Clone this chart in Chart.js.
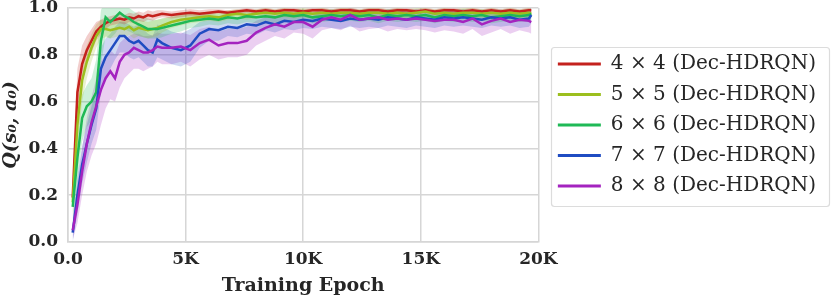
<!DOCTYPE html>
<html>
<head>
<meta charset="utf-8">
<script src="https://cdn.jsdelivr.net/npm/chart.js@4.4.1/dist/chart.umd.min.js"></script>
<style>
  html, body { margin: 0; padding: 0; background: #fff; }
  #wrap { width: 831px; height: 297px; }
</style>
</head>
<body>
<div id="wrap"><canvas id="chart" width="831" height="297"></canvas></div>
<script>
// x values (training epoch) of the logged points
const epochs = [200, 400, 600, 800, 1000, 1200, 1400, 1600, 1800, 2000,
  2200, 2400, 2600, 2800, 3000, 3200, 3400, 3600, 3800, 4000,
  4400, 4800, 5200, 5600, 6000, 6400, 6800, 7200, 7600, 8000,
  8400, 8800, 9200, 9600, 10000, 10400, 10800, 11200, 11600, 12000,
  12400, 12800, 13200, 13600, 14000, 14400, 14800, 15200, 15600, 16000,
  16400, 16800, 17200, 17600, 18000, 18400, 18800, 19200, 19600, 19700];

const xTickLabels = ['0.0', '5K', '10K', '15K', '20K'];
const yTickLabels = ['0.0', '0.2', '0.4', '0.6', '0.8', '1.0'];
const seriesNames = ['4 × 4 (Dec-HDRQN)', '5 × 5 (Dec-HDRQN)', '6 × 6 (Dec-HDRQN)', '7 × 7 (Dec-HDRQN)', '8 × 8 (Dec-HDRQN)'];

// 4x4
const q4 = [0.19, 0.64, 0.76, 0.82, 0.86, 0.90, 0.92, 0.935, 0.945, 0.95,
  0.955, 0.95, 0.96, 0.955, 0.965, 0.96, 0.97, 0.965, 0.97, 0.975,
  0.97, 0.975, 0.98, 0.975, 0.98, 0.985, 0.98, 0.985, 0.99, 0.985,
  0.99, 0.985, 0.99, 0.99, 0.985, 0.99, 0.99, 0.985, 0.99, 0.99,
  0.985, 0.99, 0.99, 0.985, 0.99, 0.99, 0.985, 0.99, 0.985, 0.99,
  0.99, 0.985, 0.99, 0.985, 0.99, 0.985, 0.99, 0.985, 0.99, 0.99];
const q4Low = [0.12, 0.54, 0.68, 0.76, 0.81, 0.86, 0.89, 0.91, 0.925, 0.93,
  0.935, 0.93, 0.94, 0.935, 0.945, 0.94, 0.95, 0.945, 0.955, 0.96,
  0.955, 0.96, 0.965, 0.96, 0.97, 0.975, 0.97, 0.975, 0.98, 0.975,
  0.98, 0.975, 0.98, 0.98, 0.975, 0.98, 0.98, 0.975, 0.98, 0.98,
  0.975, 0.98, 0.98, 0.975, 0.98, 0.98, 0.975, 0.98, 0.975, 0.98,
  0.98, 0.975, 0.98, 0.975, 0.98, 0.975, 0.98, 0.975, 0.98, 0.98];
const q4High = [0.26, 0.74, 0.84, 0.88, 0.91, 0.94, 0.95, 0.96, 0.965, 0.97,
  0.975, 0.97, 0.98, 0.975, 0.985, 0.98, 0.99, 0.985, 0.99, 0.99,
  0.985, 0.99, 0.995, 0.99, 0.995, 0.995, 0.99, 0.995, 1.0, 0.995,
  1.0, 0.995, 1.0, 1.0, 0.995, 1.0, 1.0, 0.995, 1.0, 1.0,
  0.995, 1.0, 1.0, 0.995, 1.0, 1.0, 0.995, 1.0, 0.995, 1.0,
  1.0, 0.995, 1.0, 0.995, 1.0, 0.995, 1.0, 0.995, 1.0, 1.0];

// 5x5
const q5 = [0.17, 0.50, 0.69, 0.77, 0.83, 0.88, 0.91, 0.91, 0.905, 0.91,
  0.915, 0.91, 0.92, 0.905, 0.915, 0.91, 0.905, 0.91, 0.915, 0.925,
  0.94, 0.95, 0.955, 0.96, 0.965, 0.96, 0.97, 0.975, 0.97, 0.975,
  0.98, 0.975, 0.98, 0.975, 0.98, 0.975, 0.98, 0.975, 0.98, 0.98,
  0.975, 0.98, 0.98, 0.975, 0.98, 0.975, 0.98, 0.985, 0.975, 0.98,
  0.975, 0.98, 0.98, 0.975, 0.98, 0.975, 0.98, 0.975, 0.98, 0.975];
const q5Low = [0.11, 0.40, 0.60, 0.70, 0.77, 0.83, 0.87, 0.875, 0.87, 0.875,
  0.88, 0.875, 0.885, 0.87, 0.88, 0.875, 0.87, 0.875, 0.88, 0.895,
  0.915, 0.925, 0.935, 0.94, 0.945, 0.94, 0.95, 0.955, 0.95, 0.955,
  0.96, 0.955, 0.96, 0.955, 0.96, 0.955, 0.96, 0.955, 0.96, 0.96,
  0.955, 0.96, 0.96, 0.955, 0.96, 0.955, 0.96, 0.965, 0.955, 0.96,
  0.955, 0.96, 0.96, 0.955, 0.96, 0.955, 0.96, 0.955, 0.96, 0.955];
const q5High = [0.23, 0.60, 0.78, 0.84, 0.89, 0.93, 0.95, 0.945, 0.94, 0.945,
  0.95, 0.945, 0.955, 0.94, 0.95, 0.945, 0.94, 0.945, 0.95, 0.955,
  0.965, 0.975, 0.975, 0.98, 0.985, 0.98, 0.99, 0.995, 0.99, 0.995,
  1.0, 0.995, 1.0, 0.995, 1.0, 0.995, 1.0, 0.995, 1.0, 1.0,
  0.995, 1.0, 1.0, 0.995, 1.0, 0.995, 1.0, 1.0, 0.995, 1.0,
  0.995, 1.0, 1.0, 0.995, 1.0, 0.995, 1.0, 0.995, 1.0, 0.995];

// 6x6
const q6 = [0.15, 0.36, 0.53, 0.58, 0.60, 0.64, 0.86, 0.96, 0.94, 0.96,
  0.98, 0.965, 0.955, 0.94, 0.93, 0.92, 0.91, 0.91, 0.91, 0.915,
  0.925, 0.935, 0.945, 0.95, 0.955, 0.95, 0.96, 0.955, 0.965, 0.96,
  0.965, 0.96, 0.97, 0.965, 0.97, 0.96, 0.965, 0.97, 0.965, 0.97,
  0.965, 0.97, 0.96, 0.97, 0.965, 0.97, 0.965, 0.97, 0.96, 0.97,
  0.965, 0.97, 0.965, 0.97, 0.96, 0.965, 0.97, 0.965, 0.97, 0.975];
const q6Low = [0.09, 0.26, 0.43, 0.49, 0.52, 0.56, 0.76, 0.88, 0.87, 0.89,
  0.92, 0.91, 0.90, 0.89, 0.88, 0.875, 0.87, 0.87, 0.87, 0.875,
  0.89, 0.90, 0.915, 0.92, 0.93, 0.925, 0.935, 0.93, 0.94, 0.935,
  0.94, 0.935, 0.945, 0.94, 0.945, 0.935, 0.94, 0.945, 0.94, 0.945,
  0.94, 0.945, 0.935, 0.945, 0.94, 0.945, 0.94, 0.945, 0.935, 0.945,
  0.94, 0.945, 0.94, 0.945, 0.935, 0.94, 0.945, 0.94, 0.945, 0.95];
const q6High = [0.21, 0.46, 0.63, 0.67, 0.70, 0.78, 0.99, 1.04, 1.02, 1.03,
  1.04, 1.02, 1.0, 0.985, 0.975, 0.965, 0.955, 0.95, 0.95, 0.955,
  0.96, 0.97, 0.975, 0.98, 0.98, 0.975, 0.985, 0.98, 0.99, 0.985,
  0.99, 0.985, 0.995, 0.99, 0.995, 0.985, 0.99, 0.995, 0.99, 0.995,
  0.99, 0.995, 0.985, 0.995, 0.99, 0.995, 0.99, 0.995, 0.985, 0.995,
  0.99, 0.995, 0.99, 0.995, 0.985, 0.99, 0.995, 0.99, 0.995, 1.0];

// 7x7
const q7 = [0.04, 0.20, 0.33, 0.42, 0.50, 0.57, 0.74, 0.79, 0.82, 0.85,
  0.88, 0.88, 0.86, 0.85, 0.86, 0.84, 0.82, 0.81, 0.865, 0.85,
  0.83, 0.82, 0.84, 0.89, 0.91, 0.905, 0.92, 0.915, 0.93, 0.925,
  0.94, 0.93, 0.945, 0.94, 0.95, 0.945, 0.955, 0.95, 0.945, 0.955,
  0.95, 0.955, 0.95, 0.96, 0.955, 0.95, 0.96, 0.955, 0.95, 0.96,
  0.955, 0.96, 0.955, 0.95, 0.96, 0.955, 0.96, 0.95, 0.955, 0.97];
const q7Low = [0.00, 0.12, 0.25, 0.34, 0.42, 0.48, 0.64, 0.70, 0.74, 0.78,
  0.81, 0.81, 0.79, 0.78, 0.79, 0.77, 0.75, 0.75, 0.79, 0.78,
  0.76, 0.75, 0.77, 0.83, 0.86, 0.86, 0.88, 0.875, 0.89, 0.885,
  0.905, 0.895, 0.91, 0.905, 0.915, 0.91, 0.92, 0.915, 0.91, 0.92,
  0.915, 0.92, 0.915, 0.925, 0.92, 0.915, 0.925, 0.92, 0.915, 0.925,
  0.92, 0.925, 0.92, 0.915, 0.925, 0.92, 0.925, 0.915, 0.92, 0.935];
const q7High = [0.09, 0.28, 0.41, 0.50, 0.58, 0.66, 0.83, 0.87, 0.89, 0.92,
  0.94, 0.94, 0.93, 0.92, 0.93, 0.91, 0.89, 0.88, 0.93, 0.92,
  0.90, 0.89, 0.91, 0.94, 0.95, 0.95, 0.96, 0.955, 0.97, 0.965,
  0.975, 0.965, 0.98, 0.975, 0.985, 0.98, 0.99, 0.985, 0.98, 0.99,
  0.985, 0.99, 0.985, 0.995, 0.99, 0.985, 0.995, 0.99, 0.985, 0.995,
  0.99, 0.995, 0.99, 0.985, 0.995, 0.99, 0.995, 0.985, 0.99, 1.0];

// 8x8
const q8 = [0.05, 0.16, 0.30, 0.42, 0.51, 0.58, 0.65, 0.70, 0.73, 0.70,
  0.77, 0.80, 0.81, 0.83, 0.82, 0.81, 0.81, 0.82, 0.835, 0.83,
  0.83, 0.835, 0.82, 0.85, 0.865, 0.84, 0.85, 0.85, 0.86, 0.895,
  0.915, 0.93, 0.92, 0.94, 0.94, 0.92, 0.95, 0.96, 0.95, 0.97,
  0.95, 0.955, 0.96, 0.95, 0.955, 0.95, 0.955, 0.95, 0.945, 0.95,
  0.95, 0.94, 0.955, 0.93, 0.945, 0.955, 0.94, 0.95, 0.945, 0.94];
const q8Low = [0.01, 0.08, 0.20, 0.30, 0.37, 0.42, 0.50, 0.57, 0.61, 0.60,
  0.66, 0.70, 0.72, 0.74, 0.74, 0.73, 0.74, 0.75, 0.77, 0.76,
  0.76, 0.77, 0.75, 0.78, 0.80, 0.78, 0.79, 0.79, 0.80, 0.84,
  0.86, 0.88, 0.87, 0.895, 0.89, 0.87, 0.905, 0.915, 0.905, 0.925,
  0.90, 0.91, 0.915, 0.90, 0.91, 0.905, 0.91, 0.905, 0.895, 0.905,
  0.90, 0.89, 0.91, 0.88, 0.895, 0.91, 0.89, 0.905, 0.895, 0.89];
const q8High = [0.10, 0.26, 0.40, 0.53, 0.62, 0.70, 0.77, 0.80, 0.82, 0.80,
  0.85, 0.87, 0.88, 0.89, 0.89, 0.88, 0.88, 0.885, 0.895, 0.89,
  0.89, 0.895, 0.885, 0.91, 0.92, 0.90, 0.91, 0.91, 0.92, 0.945,
  0.96, 0.97, 0.965, 0.98, 0.98, 0.965, 0.985, 0.995, 0.985, 1.0,
  0.99, 0.995, 0.995, 0.99, 0.995, 0.99, 0.995, 0.99, 0.985, 0.99,
  0.99, 0.985, 0.995, 0.975, 0.99, 0.995, 0.98, 0.99, 0.985, 0.985];

const means = [q4, q5, q6, q7, q8];
const lows = [q4Low, q5Low, q6Low, q7Low, q8Low];
const highs = [q4High, q5High, q6High, q7High, q8High];
const lineColors = ['#c4211d', '#9cbf1e', '#1fb956', '#1f4cc2', '#a423bf'];
const bandColors = ['rgba(196,33,29,0.22)', 'rgba(156,191,30,0.22)', 'rgba(31,185,86,0.22)', 'rgba(31,76,194,0.22)', 'rgba(164,35,191,0.22)'];

const serif = "'DejaVu Serif', serif";
const textColor = '#262626';
const gridColor = '#d6d6d6';

// lines first (they are on top), bands after
const datasets = [];
seriesNames.forEach((name, i) => {
    datasets.push({
        label: name,
        data: means[i],
        borderColor: lineColors[i],
        backgroundColor: lineColors[i],
        borderWidth: 2.5,
        pointRadius: 0,
        fill: false,
        order: 5 - i
    });
});
seriesNames.forEach((name, i) => {
    datasets.push({
        label: name + ' upper',
        data: highs[i],
        borderColor: 'rgba(0,0,0,0)',
        borderWidth: 0,
        backgroundColor: bandColors[i],
        pointRadius: 0,
        fill: '+1',
        order: 20
    });
    datasets.push({
        label: name + ' lower',
        data: lows[i],
        borderColor: 'rgba(0,0,0,0)',
        borderWidth: 0,
        pointRadius: 0,
        fill: false,
        order: 20
    });
});

// push the legend a bit away from the plot and frame it
const legendFrame = {
    id: 'legendFrame',
    afterLayout(chart) {
        chart.legend.left += 9;
        chart.legend.right += 9;
    },
    afterDraw(chart) {
        const boxes = chart.legend && chart.legend.legendHitBoxes;
        if (!boxes || !boxes.length) return;
        const ctx = chart.ctx;
        const left = Math.min(...boxes.map(b => b.left)) - 7;
        const right = Math.max(...boxes.map(b => b.left + b.width)) + 16;
        const top = boxes[0].top - 7;
        const last = boxes[boxes.length - 1];
        const bottom = last.top + last.height + 10;
        ctx.save();
        ctx.strokeStyle = '#dcdcdc';
        ctx.lineWidth = 1.2;
        ctx.beginPath();
        ctx.roundRect(Math.round(left) + 0.5, Math.round(top) + 0.5, Math.min(Math.round(right - left), 829 - Math.round(left)), Math.round(bottom - top), 3);
        ctx.stroke();
        ctx.restore();
    }
};

new Chart(document.getElementById('chart').getContext('2d'), {
    type: 'line',
    data: { labels: epochs, datasets: datasets },
    options: {
        responsive: false,
        animation: false,
        devicePixelRatio: 1,
        layout: { padding: { top: 8, left: 0, right: 14, bottom: 0 } },
        elements: { line: { tension: 0 } },
        plugins: {
            tooltip: { enabled: false },
            legend: {
                position: 'right',
                fullSize: false,
                maxWidth: 320,
                labels: {
                    boxWidth: 43,
                    boxHeight: 3,
                    padding: 10.5,
                    color: textColor,
                    font: { family: serif, size: 20 },
                    generateLabels: () => seriesNames.map((name, i) => ({
                        text: name,
                        fillStyle: lineColors[i],
                        strokeStyle: lineColors[i],
                        lineWidth: 0,
                        hidden: false,
                        datasetIndex: i,
                        fontColor: textColor
                    }))
                }
            }
        },
        scales: {
            x: {
                type: 'linear',
                min: 0,
                max: 20000,
                afterFit: s => { s.height = 55; },
                ticks: {
                    stepSize: 5000,
                    padding: 7,
                    color: textColor,
                    font: { family: serif, size: 17, weight: 'bold' },
                    callback: v => xTickLabels[Math.round(v / 5000)]
                },
                grid: { color: gridColor, lineWidth: 1.5, drawTicks: false },
                border: { color: gridColor, width: 1.5 },
                title: {
                    display: true,
                    text: 'Training Epoch',
                    color: textColor,
                    font: { family: serif, size: 19, weight: 'bold' },
                    padding: { top: 0, bottom: 0 }
                }
            },
            y: {
                min: 0,
                max: 1,
                afterFit: s => {
                    s.width = 68;
                    s.paddingTop = 0;
                    s.paddingBottom = 0;
                },
                ticks: {
                    stepSize: 0.2,
                    padding: 10,
                    color: textColor,
                    font: { family: serif, size: 17, weight: 'bold' },
                    callback: v => yTickLabels[Math.round(v * 5)]
                },
                grid: { color: gridColor, lineWidth: 1.5, drawTicks: false },
                border: { color: gridColor, width: 1.5 },
                title: {
                    display: true,
                    text: 'Q(s₀, a₀)',
                    color: textColor,
                    font: { family: serif, size: 19, weight: 'bold', style: 'italic' },
                    padding: { top: 0, bottom: 0 }
                }
            }
        }
    },
    plugins: [legendFrame]
});
</script>
</body>
</html>
